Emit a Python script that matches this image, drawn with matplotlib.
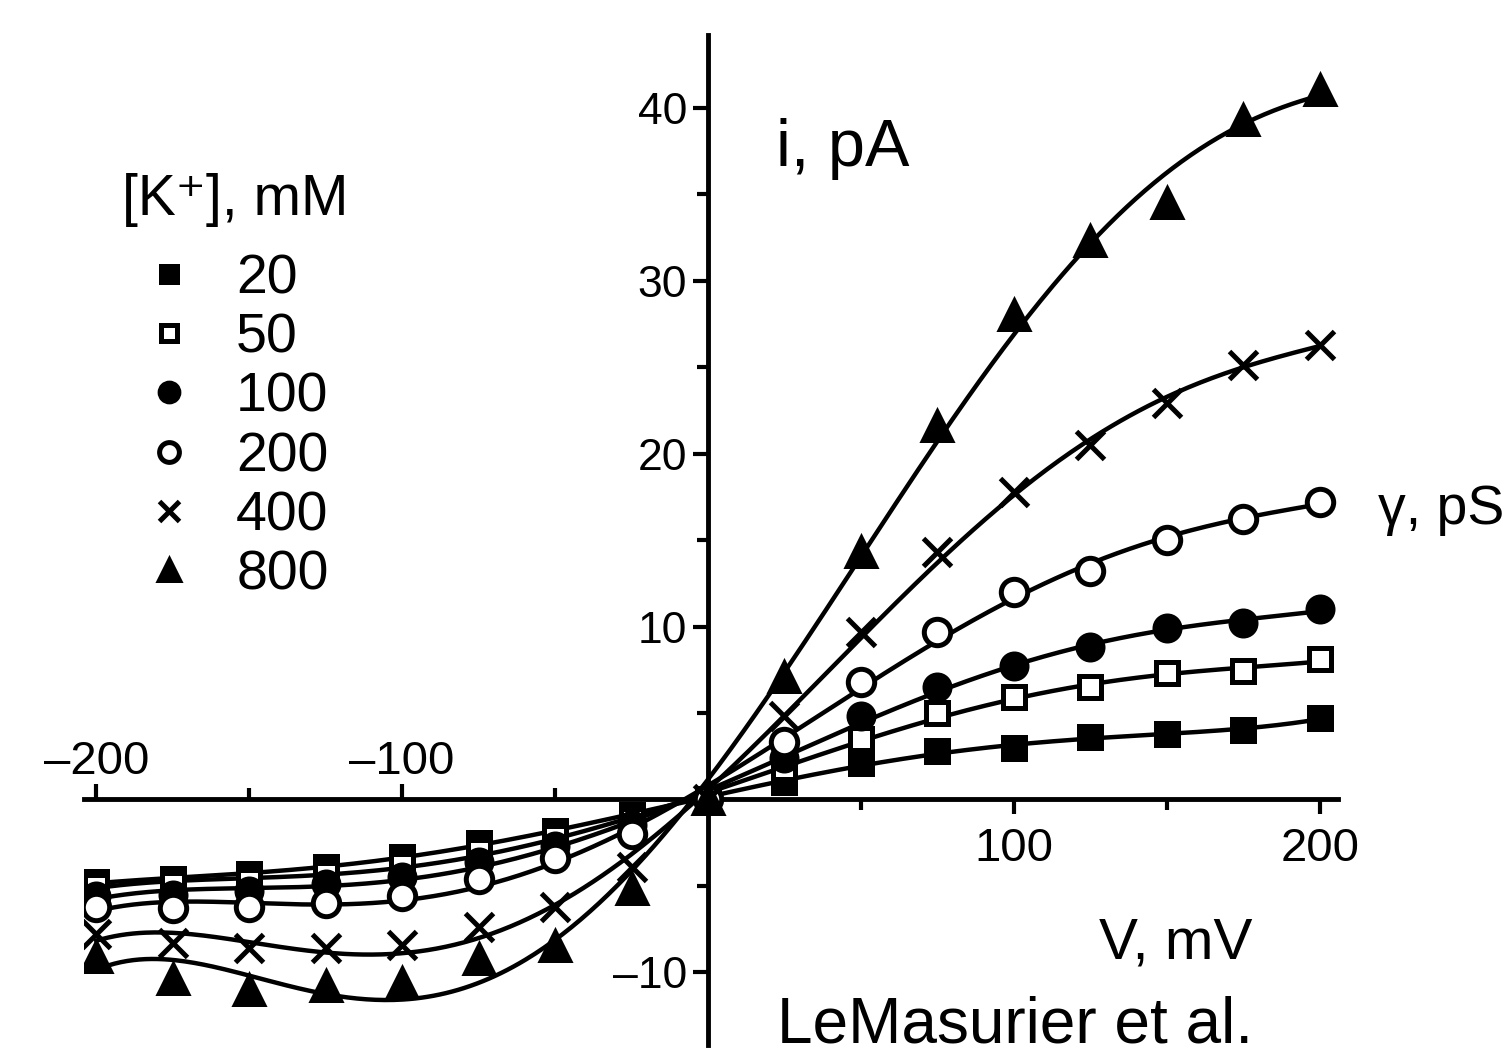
import numpy as np
import matplotlib.pyplot as plt

plt.rcParams['font.family'] = ['Liberation Sans', 'DejaVu Sans']
plt.rcParams['mathtext.default'] = 'regular'

# membrane voltage, mV
voltage = [-200, -175, -150, -125, -100, -75, -50, -25, 0,
           25, 50, 75, 100, 125, 150, 175, 200]

# single channel current, pA, for each [K+] in mM
conc_labels = ['20', '50', '100', '200', '400', '800']
i_20 = [-4.8, -4.6, -4.3, -3.9, -3.3, -2.5, -1.8, -0.9, 0,
        1.0, 2.1, 2.8, 3.0, 3.6, 3.8, 4.0, 4.7]
i_50 = [-5.0, -4.9, -4.7, -4.3, -3.8, -3.0, -2.2, -1.2, 0,
        1.8, 3.5, 5.0, 5.9, 6.5, 7.3, 7.4, 8.1]
i_100 = [-5.6, -5.5, -5.3, -4.9, -4.5, -3.6, -2.7, -1.5, 0,
         2.4, 4.8, 6.5, 7.7, 8.8, 9.9, 10.2, 11.0]
i_200 = [-6.2, -6.3, -6.2, -6.0, -5.6, -4.6, -3.4, -2.0, 0,
         3.3, 6.8, 9.7, 12.0, 13.2, 15.0, 16.2, 17.2]
i_400 = [-7.8, -8.3, -8.6, -8.6, -8.4, -7.4, -6.2, -3.9, 0,
         4.8, 9.7, 14.3, 17.8, 20.5, 22.9, 25.1, 26.3]
i_800 = [-9.1, -10.4, -11.0, -10.8, -10.6, -9.2, -8.5, -5.2, 0,
         7.1, 14.3, 21.6, 28.0, 32.3, 34.5, 39.3, 41.0]
currents = [i_20, i_50, i_100, i_200, i_400, i_800]

markers = ['s', 's', 'o', 'o', 'x', '^']
faces = ['black', 'white', 'black', 'white', 'black', 'black']
sizes = [16, 16, 18, 19, 20, 20]


def plot_iv():
    fig = plt.figure(figsize=(15.06, 10.59), dpi=100)
    ax = fig.add_axes([0.0558, 0.0132, 0.8327, 0.9537])
    ax.set_xlim(-204, 206)
    ax.set_ylim(-14.2, 44.2)

    vfine = np.linspace(-200, 200, 400)
    handles = []
    for cur, lab, mk, fc, ms in zip(currents, conc_labels, markers, faces, sizes):
        # smooth fit through the measured points
        coef = np.polyfit(voltage, cur, 5)
        ax.plot(vfine, np.polyval(coef, vfine), color='black', lw=3.2, zorder=2)
        h, = ax.plot(voltage, cur, ls='none', marker=mk, ms=ms,
                     mfc=fc, mec='black', mew=3.6, label=lab, zorder=3)
        handles.append(h)

    # axes crossing at the origin
    for side in ['top', 'right']:
        ax.spines[side].set_visible(False)
    ax.spines['left'].set_position(('data', 0))
    ax.spines['bottom'].set_position(('data', 0))
    ax.spines['left'].set_linewidth(3.5)
    ax.spines['bottom'].set_linewidth(3.5)

    ax.set_xticks([100, 200], ['100', '200'])
    ax.set_xticks([50, 150], minor=True)
    ax.set_yticks([-10, 10, 20, 30, 40], ['\u201310', '10', '20', '30', '40'])
    ax.set_yticks([-5, 5, 15, 25, 35], minor=True)
    ax.tick_params(which='major', direction='out', length=11, width=3,
                   labelsize=32, pad=4)
    ax.tick_params(axis='x', which='major', labelsize=34, pad=9)
    ax.tick_params(which='minor', direction='out', length=8, width=3)

    # ticks and labels of the negative half sit above the axis
    sec = ax.secondary_xaxis(0, transform=ax.transData)
    sec.set_alignment('top')
    sec.spines['top'].set_visible(False)
    sec.set_xticks([-200, -100], ['\u2013200', '\u2013100'])
    sec.set_xticks([-150, -50], minor=True)
    sec.tick_params(which='major', direction='out', length=11, width=3,
                    labelsize=34, pad=0)
    sec.tick_params(which='minor', direction='out', length=8, width=3)

    ax.text(0.515, 0.843, 'i, pA', transform=fig.transFigure, fontsize=48,
            ha='left', va='baseline')
    ax.text(0.73, 0.095, 'V, mV', transform=fig.transFigure, fontsize=42,
            ha='left', va='baseline')
    ax.text(0.915, 0.505, '\u03b3, pS', transform=fig.transFigure, fontsize=40,
            ha='left', va='baseline')
    ax.text(0.516, 0.016, 'LeMasurier et al.', transform=fig.transFigure,
            fontsize=46, ha='left', va='baseline')

    # legend title as separate text, entries below it
    fig.text(0.081, 0.797, '[K\u207a], mM', fontsize=41, ha='left',
             va='baseline')
    fig.legend(handles=handles, loc='upper left',
               bbox_to_anchor=(0.062, 0.787), frameon=False,
               fontsize=40, numpoints=1, markerscale=0.75, borderpad=0,
               handlelength=1.73, handletextpad=0.34, labelspacing=0.13)

    fig.savefig('out.png', dpi=100)


if __name__ == "__main__":
    plot_iv()
